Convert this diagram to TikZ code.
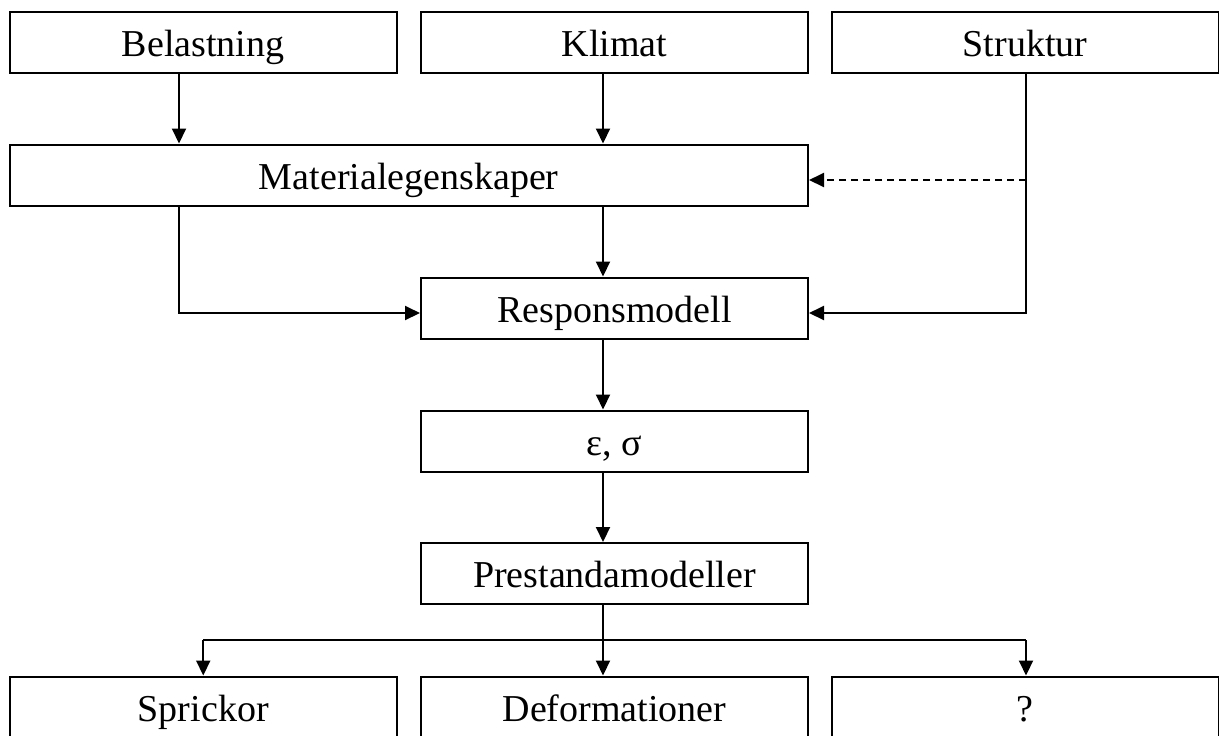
\documentclass[tikz,border=0pt]{standalone}
\usepackage{fontspec}
\setmainfont{Liberation Serif}
\usetikzlibrary{arrows.meta}

\begin{document}
\begin{tikzpicture}[x=0.5pt, y=-0.5pt,
    box/.style={draw, line width=1pt, inner sep=0pt, minimum height=30.5pt,
      text height=16pt, text depth=2pt, font=\fontsize{19pt}{22pt}\selectfont},
    wide/.style={box, minimum width=193.5pt},
    link/.style={line width=1pt},
    arr/.style={link, -{Triangle[length=7.5pt, width=7pt]}}]

    \useasboundingbox (0, 0) rectangle (1219, 735);

    \node [wide] (bel) at (203.25, 42) {Belastning};
    \node [wide] (kli) at (614.5, 42) {Klimat};
    \node [wide] (str) at (1025, 42) {Struktur};

    \node [box, minimum width=399.25pt] (mat) at (408.75, 175) {Materialegenskaper};

    \node [wide] (res) at (614.5, 308) {Responsmodell};
    \node [wide] (eps) at (614.5, 441) {ε, σ};
    \node [wide] (pre) at (614.5, 573.5) {Prestandamodeller};

    \node [wide] (spr) at (203.25, 707) {Sprickor};
    \node [wide] (def) at (614.5, 707) {Deformationer};
    \node [wide] (que) at (1025, 707) {?};

    \coordinate (col) at (603, 0);
    \coordinate (lft) at (179, 313);
    \coordinate (rgt) at (1026, 313);
    \coordinate (dsh) at (1026, 180);
    \coordinate (split) at (603, 640);

    \draw [arr] (bel.south -| lft) -- (mat.north -| lft);
    \draw [arr] (kli.south -| col) -- (mat.north -| col);
    \draw [arr, dash pattern=on 3.5pt off 2.5pt] (dsh) -- (dsh -| mat.east);

    \draw [arr] (mat.south -| col) -- (res.north -| col);
    \draw [arr] (mat.south -| lft) -- (lft) -- (lft -| res.west);
    \draw [arr] (str.south -| rgt) -- (rgt) -- (rgt -| res.east);

    \draw [arr] (res.south -| col) -- (eps.north -| col);
    \draw [arr] (eps.south -| col) -- (pre.north -| col);

    \draw [arr] (pre.south -| split) -- (def.north -| split);
    \draw [link] (split -| spr.north) -- (split -| rgt);
    \draw [arr] (split -| spr.north) -- (spr.north);
    \draw [arr] (split -| rgt) -- (que.north -| rgt);
  \end{tikzpicture}
\end{document}
